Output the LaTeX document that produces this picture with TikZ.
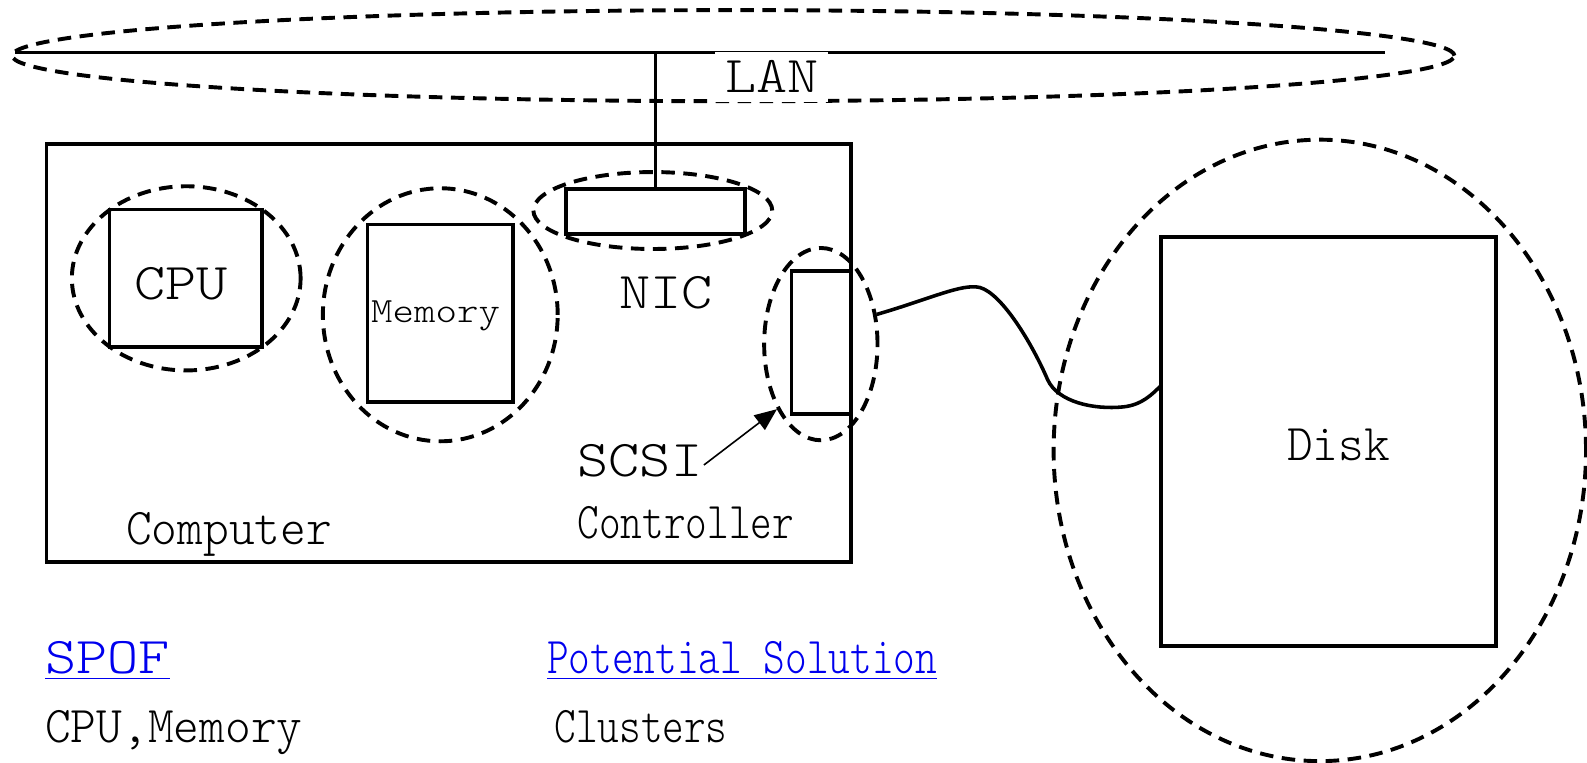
\documentclass[tikz,border=0pt]{standalone}
\usepackage{fontspec}
\newfontfamily\widefont{lmmonolt10-regular.otf}[FakeStretch=1.15]
\newfontfamily\midfont{lmmonolt10-regular.otf}[FakeStretch=0.95]
\newfontfamily\narrowfont{lmmonolt10-regular.otf}[FakeStretch=0.8]
\usepackage{xcolor}
\usetikzlibrary{arrows.meta, shapes.geometric}

\definecolor{linkblue}{RGB}{0,0,238}

\begin{document}
\begin{tikzpicture}[
    x=1cm, y=-1cm,
    part/.style={draw, line width=1pt, inner sep=0pt},
    ring/.style={draw, ellipse, dash pattern=on 3.8pt off 2.4pt, line width=1.1pt, inner sep=0pt},
    lbl/.style={inner sep=0pt, anchor=base west, font=\widefont\fontsize{14.5}{17}\selectfont},
    mlbl/.style={lbl, font=\midfont\fontsize{14.5}{17}\selectfont},
    nlbl/.style={lbl, font=\narrowfont\fontsize{14.5}{17}\selectfont},
    wire/.style={line width=1pt},
    pointer/.style={line width=0.45pt, -{Triangle[length=2.2mm, width=1.8mm]}}
]
\useasboundingbox (0,0) rectangle (15.68,7.53);

% network
\node[ring, minimum width=14.25cm, minimum height=0.90cm] (lanring) at (7.245,0.55) {};
\coordinate (lanL) at (0.15,0.52);
\coordinate (lanR) at (13.68,0.52);
\draw[wire] (lanL) -- (lanR);
\node[lbl, anchor=center, fill=white, minimum width=1.12cm, minimum height=0.5cm] (lan) at (7.625,0.76) {LAN};

% computer and its parts
\node[part, minimum width=7.95cm, minimum height=4.13cm] (computer) at (4.435,3.485) {};

\node[ring, minimum width=2.26cm, minimum height=1.82cm] (cpuring) at (1.84,2.75) {};
\node[part, minimum width=1.51cm, minimum height=1.36cm] (cpu) at (1.835,2.75) {};
\node[lbl] (cpulbl) at (1.32,2.96) {CPU};

\node[ring, minimum width=2.32cm, minimum height=2.50cm] (memring) at (4.35,3.11) {};
\node[part, minimum width=1.44cm, minimum height=1.75cm] (mem) at (4.35,3.095) {};
\node[lbl, font=\widefont\fontsize{10}{12}\selectfont] (memlbl) at (3.66,3.19) {Memory};

\node[ring, minimum width=2.36cm, minimum height=0.76cm] (nicring) at (6.45,2.08) {};
\node[part, minimum width=1.77cm, minimum height=0.44cm] (nic) at (6.475,2.09) {};
\node[lbl] (niclbl) at (6.11,3.05) {NIC};

\node[ring, minimum width=1.12cm, minimum height=1.90cm] (scsiring) at (8.11,3.40) {};
\node[part, minimum width=0.59cm, minimum height=1.41cm] (scsi) at (8.115,3.385) {};
\node[lbl] (scsilbl) at (5.70,4.71) {SCSI};
\node[nlbl] (ctrllbl) at (5.70,5.32) {Controller};
\node[mlbl] (complbl) at (1.24,5.38) {Computer};

% disk
\node[ring, minimum width=5.26cm, minimum height=6.14cm] (diskring) at (13.04,4.45) {};
\node[part, minimum width=3.31cm, minimum height=4.04cm] (disk) at (13.125,4.36) {};
\node[mlbl] (disklbl) at (12.71,4.55) {Disk};

\draw[wire] (nic.north) -- (nic.north |- lanL);
\draw[pointer] (scsilbl.east) ++(0.01,0.04) -- (scsiring.236);
\coordinate (cableend) at (11.47,3.81);
\draw[wire] (scsiring.28) .. controls (9.20,2.95) and (9.50,2.80) .. (9.68,2.84)
    .. controls (9.90,2.90) and (10.20,3.40) .. (10.35,3.75)
    .. controls (10.45,3.97) and (10.80,4.05) .. (11.10,4.02)
    .. controls (11.28,4.00) and (11.38,3.90) .. (cableend);

% notes below
\node[lbl, text=linkblue] (spof) at (0.44,6.65) {\underline{SPOF}};
\node[mlbl] (spofitems) at (0.44,7.34) {CPU,Memory};
\node[nlbl, text=linkblue] (solution) at (5.40,6.65) {\underline{Potential Solution}};
\node[nlbl] (solitems) at (5.47,7.34) {Clusters};
\end{tikzpicture}
\end{document}
